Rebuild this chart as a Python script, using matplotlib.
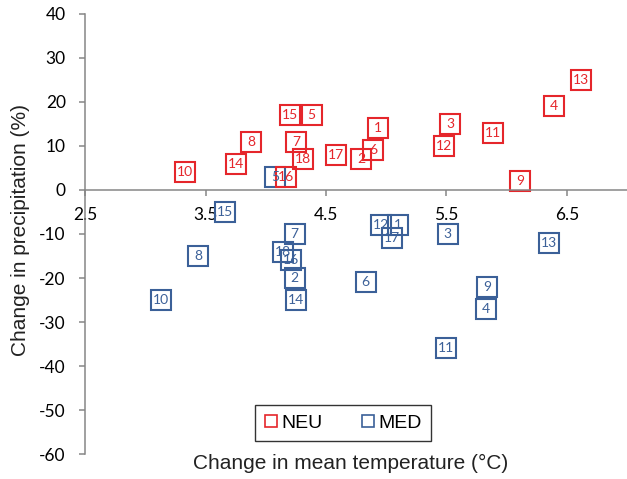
import matplotlib
matplotlib.use("Agg")
import matplotlib.pyplot as plt
from matplotlib.lines import Line2D

plt.rcParams["axes.unicode_minus"] = False

# NEU / MED change in mean temperature (degC) and precipitation (%), models 1-18
neu_ids = [1, 2, 3, 4, 5, 6, 7, 8, 9, 10, 11, 12, 13, 14, 15, 16, 17, 18]
neu_temp = [4.93, 4.79, 5.53, 6.39, 4.38, 4.89, 4.25, 3.88, 6.11, 3.33, 5.89, 5.48, 6.62, 3.75, 4.20, 4.17, 4.58, 4.31]
neu_prec = [14, 7, 15, 19, 17, 9, 11, 11, 2, 4, 13, 10, 25, 6, 17, 3, 8, 7]

med_ids = [1, 2, 3, 4, 5, 6, 7, 8, 9, 10, 11, 12, 13, 14, 15, 16, 17, 18]
med_temp = [5.10, 4.24, 5.51, 5.83, 4.08, 4.83, 4.24, 3.44, 5.84, 3.13, 5.50, 4.96, 6.35, 4.25, 3.66, 4.21, 5.05, 4.14]
med_prec = [-8, -20, -10, -27, 3, -21, -10, -15, -22, -25, -36, -8, -12, -25, -5, -16, -11, -14]

red = "#E5262B"
blue = "#3B6098"
grey = "#868686"

fig = plt.figure(figsize=(6.27, 4.79), dpi=100)
ax = fig.add_axes([0.136, 0.052, 0.864, 0.919])

# blue first, red drawn over it
for ids, xs, ys, col in [(med_ids, med_temp, med_prec, blue),
                         (neu_ids, neu_temp, neu_prec, red)]:
    ax.plot(xs, ys, linestyle="none", marker="s", markersize=14,
            markerfacecolor="none", markeredgecolor=col, markeredgewidth=1.5)
    for i, x, y in zip(ids, xs, ys):
        ax.text(x, y, str(i), color=col, fontsize=10, family="Lato",
                ha="center", va="center")

ax.set_xlim(2.5, 7.0)
ax.set_ylim(-60, 40)
ax.set_xticks([2.5, 3.5, 4.5, 5.5, 6.5])
ax.set_yticks(range(-60, 41, 10))

ax.spines["top"].set_visible(False)
ax.spines["right"].set_visible(False)
ax.spines["bottom"].set_position(("data", 0))
for s in ["left", "bottom"]:
    ax.spines[s].set_color(grey)
    ax.spines[s].set_linewidth(1.1)

ax.tick_params(axis="both", direction="out", length=4, width=1.1, color=grey,
               labelsize=12.5)
ax.tick_params(axis="x", pad=8)
ax.tick_params(axis="y", pad=10)
for lab in ax.get_xticklabels() + ax.get_yticklabels():
    lab.set_family("Lato")

fig.text(0.032, 0.52, "Change in precipitation (%)", rotation=90,
         ha="center", va="center", fontsize=15, family="Liberation Sans",
         color="#222222")
fig.text(0.56, 0.033, "Change in mean temperature (\u00b0C)", ha="center",
         va="center", fontsize=15, family="Liberation Sans", color="#222222")

handles = [Line2D([], [], linestyle="none", marker="s", markersize=9,
                  markerfacecolor="none", markeredgecolor=red,
                  markeredgewidth=1.2, label="NEU"),
           Line2D([], [], linestyle="none", marker="s", markersize=9,
                  markerfacecolor="none", markeredgecolor=blue,
                  markeredgewidth=1.2, label="MED")]
leg = fig.legend(handles=handles, loc="center", bbox_to_anchor=(0.547, 0.117),
                 ncol=2, frameon=True, fancybox=False, handlelength=0.7,
                 handletextpad=0.2, columnspacing=2.0, borderpad=0.45,
                 prop={"family": "Liberation Sans", "size": 14})
leg.get_frame().set_edgecolor("black")
leg.get_frame().set_linewidth(1.0)

fig.savefig("out.png", dpi=100)
